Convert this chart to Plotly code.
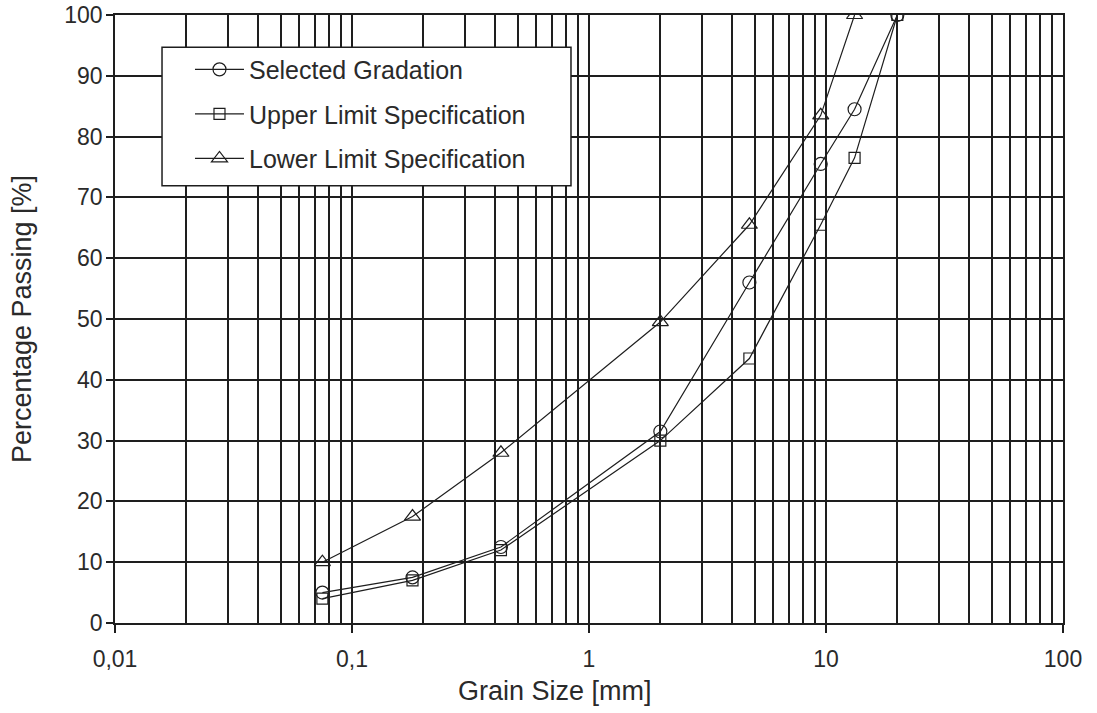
import plotly.graph_objects as go

sizes = [0.075, 0.18, 0.425, 2, 4.75, 9.5, 13.2, 20]
selected = [5, 7.5, 12.5, 31.5, 56, 75.5, 84.5, 100]
upper = [4, 7, 12, 30, 43.5, 65.5, 76.5, 100]
lower_sizes = [0.075, 0.18, 0.425, 2, 4.75, 9.5, 13.2]
lower = [10, 17.5, 28, 49.5, 65.5, 83.5, 100]

x_tickvals = [0.01, 0.1, 1, 10, 100]
x_ticktext = ["0,01", "0,1", "1", "10", "100"]
y_tickvals = list(range(0, 101, 10))

minor_vals = [m * 10.0 ** e for e in range(-2, 2) for m in range(2, 10)]

INK = "#1e1e1e"
TXT = "#2a2a2a"
font = "Liberation Sans, Arial, sans-serif"

fig = go.Figure()
line = dict(color=INK, width=1.2)
fig.add_trace(go.Scatter(x=sizes, y=selected, mode="lines+markers", name="Selected Gradation",
                         line=line, legendgroup="a",
                         marker=dict(symbol="circle-open", size=13, color=INK, line=dict(width=1.2))))
fig.add_trace(go.Scatter(x=sizes, y=upper, mode="lines+markers", name="Upper Limit Specification",
                         line=line, legendgroup="b",
                         marker=dict(symbol="square-open", size=11, color=INK, line=dict(width=1.2))))
fig.add_trace(go.Scatter(x=lower_sizes, y=lower, mode="lines+markers", name="Lower Limit Specification",
                         line=line, legendgroup="c",
                         marker=dict(symbol="triangle-up-open", size=14, color=INK, line=dict(width=1.2))))

fig.update_layout(
    width=1097, height=713,
    margin=dict(l=115, r=34, t=15, b=90, autoexpand=False),
    paper_bgcolor="white", plot_bgcolor="white",
    font=dict(family=font, color=INK, size=21),
    showlegend=True,
    legend=dict(x=0.0791, y=0.948, xanchor="left", yanchor="top",
                bgcolor="rgba(0,0,0,0)", borderwidth=0,
                font=dict(size=25, family=font, color=TXT),
                tracegroupgap=9, itemwidth=49),
    shapes=[dict(type="rect", xref="paper", yref="paper",
                 x0=0.0496, x1=0.481, y0=0.719, y1=0.947,
                 fillcolor="white", line=dict(color=INK, width=1.5), layer="above")],
    annotations=[
        dict(text="Grain Size [mm]", xref="paper", yref="paper", x=0.464, y=-0.112,
             xanchor="center", yanchor="middle", showarrow=False,
             font=dict(size=27, family=font, color=TXT)),
        dict(text="Percentage Passing [%]", xref="paper", yref="paper", x=-0.098, y=0.5,
             xanchor="center", yanchor="middle", showarrow=False, textangle=-90,
             font=dict(size=27, family=font, color=TXT)),
    ],
)
fig.update_xaxes(
    type="log", range=[-2, 2], automargin=False,
    tickvals=x_tickvals, ticktext=x_ticktext,
    showgrid=True, gridcolor=INK, gridwidth=1.5,
    showline=True, linecolor=INK, linewidth=1.6, mirror=True,
    ticks="outside", ticklen=8, tickcolor=INK, tickwidth=1.5,
    ticklabelstandoff=7,
    tickfont=dict(size=23, color=TXT),
    minor=dict(tickvals=minor_vals, showgrid=True, gridcolor=INK, gridwidth=1.5, ticks=""),
    zeroline=False,
)
fig.update_yaxes(
    range=[0, 100], tickvals=y_tickvals, automargin=False,
    showgrid=True, gridcolor=INK, gridwidth=1.5,
    showline=True, linecolor=INK, linewidth=1.6, mirror=True,
    ticks="outside", ticklen=7, tickcolor=INK, tickwidth=1.5,
    ticklabelstandoff=-1,
    tickfont=dict(size=23, color=TXT),
    zeroline=False,
)
fig.write_html("out.html", config={"displayModeBar": False},
               post_script="document.body.style.margin='0px';")
